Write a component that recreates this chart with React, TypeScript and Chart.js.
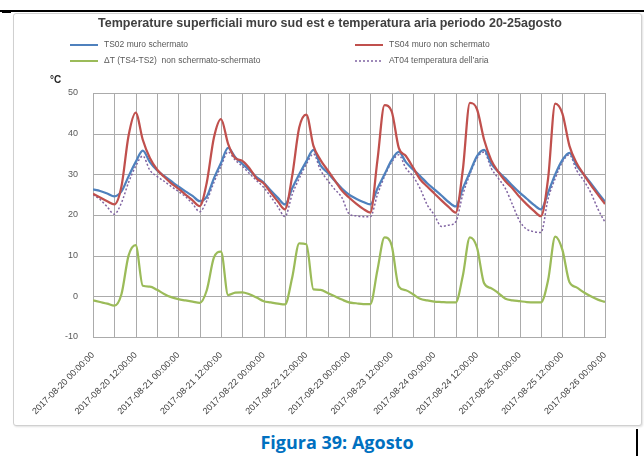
import React, { useEffect, useRef } from 'react';
import { Chart, registerables } from 'chart.js';

Chart.register(...registerables);

// Hours elapsed since 2017-08-20 00:00:00 (2-hour samples)
const hours = [
  0, 2, 4, 6, 8, 10, 12, 14, 16, 18, 20, 22,
  24, 26, 28, 30, 32, 34, 36, 38, 40, 42, 44, 46,
  48, 50, 52, 54, 56, 58, 60, 62, 64, 66, 68, 70,
  72, 74, 76, 78, 80, 82, 84, 86, 88, 90, 92, 94,
  96, 98, 100, 102, 104, 106, 108, 110, 112, 114, 116, 118,
  120, 122, 124, 126, 128, 130, 132, 134, 136, 138, 140, 142,
  144,
];

const tickLabels = [
  '2017-08-20 00:00:00', '2017-08-20 12:00:00',
  '2017-08-21 00:00:00', '2017-08-21 12:00:00',
  '2017-08-22 00:00:00', '2017-08-22 12:00:00',
  '2017-08-23 00:00:00', '2017-08-23 12:00:00',
  '2017-08-24 00:00:00', '2017-08-24 12:00:00',
  '2017-08-25 00:00:00', '2017-08-25 12:00:00',
  '2017-08-26 00:00:00',
];

const ts02 = [
  26.3, 25.9, 25.3, 24.6, 25.8, 29.5, 33.0, 35.8, 33.0, 31.0, 29.6, 28.3,
  27.0, 25.8, 24.7, 23.4, 24.5, 29.0, 32.8, 36.5, 34.2, 32.6, 31.0, 29.3,
  28.0, 26.0, 24.2, 22.6, 26.5, 30.0, 33.2, 36.0, 32.2, 30.4, 28.4, 26.5,
  25.0, 24.0, 23.2, 22.6, 26.5, 30.0, 33.5, 35.5, 33.0, 31.2, 29.6, 27.8,
  26.3, 24.8, 23.2, 22.1, 26.5, 30.5, 34.5, 36.0, 32.6, 30.6, 29.0, 27.2,
  25.5, 24.0, 22.5, 21.4, 25.5, 30.0, 33.5, 35.3, 32.2, 30.0, 27.8, 25.5,
  23.3,
];

const ts04 = [
  25.2, 24.3, 23.4, 22.6, 27.0, 39.5, 45.2, 38.5, 34.0, 31.2, 29.4, 27.8,
  26.5, 25.0, 23.6, 22.2, 28.0, 39.0, 43.6, 37.5, 34.0, 33.3, 31.5, 29.0,
  27.8, 25.5, 23.3, 21.4, 29.5, 41.5, 44.7, 37.0, 33.5, 31.0, 28.5, 26.0,
  24.3, 22.8, 21.5, 20.6, 33.5, 47.0, 45.5, 36.5, 34.5, 31.7, 28.8, 27.0,
  25.3, 23.6, 22.0, 20.6, 31.0, 47.6, 46.0, 38.5, 33.5, 30.6, 28.3, 26.5,
  24.4, 22.6, 21.0, 19.7, 29.0, 47.4, 45.0, 37.0, 32.8, 30.0, 27.4, 25.0,
  22.7,
];

const deltaT = [
  -1.0, -1.4, -1.8, -2.3, 0.5, 10.0, 12.6, 2.6, 2.4, 1.6, 0.6, -0.2,
  -0.7, -1.0, -1.3, -1.6, 1.5, 9.5, 11.0, 0.3, 0.9, 1.0, 0.5, -0.3,
  -1.2, -1.5, -1.8, -2.0, 4.5, 13.0, 12.8, 1.7, 1.6, 0.8, 0.0, -0.8,
  -1.5, -1.7, -1.9, -1.9, 6.5, 14.5, 12.5, 2.4, 1.5, 0.5, -0.6, -1.0,
  -1.3, -1.4, -1.5, -1.5, 5.0, 14.5, 12.0, 3.2, 2.0, 0.8, -0.6, -1.0,
  -1.2, -1.4, -1.5, -1.5, 4.0, 14.7, 11.5, 3.5, 2.2, 1.0, 0.0, -0.8,
  -1.4,
];

const at04 = [
  25.0, 23.8, 22.0, 20.2, 23.0, 28.0, 32.0, 34.5, 31.0, 29.5, 28.3, 27.0,
  25.8, 24.5, 22.8, 20.8, 23.5, 28.0, 32.0, 35.5, 33.5, 32.0, 30.2, 28.5,
  26.8, 24.5, 22.0, 19.6, 25.0, 29.0, 32.5, 35.0, 31.0, 28.5, 26.3, 24.3,
  20.3, 19.8, 19.6, 19.6, 25.0, 29.5, 33.0, 34.8, 31.5, 29.5, 26.5, 22.5,
  20.0, 17.2, 17.5, 18.3, 25.0, 30.0, 34.0, 35.5, 31.5, 29.0, 26.5, 22.5,
  18.5, 16.5, 15.9, 15.7, 24.0, 29.0, 33.0, 34.8, 31.0, 28.5, 25.5, 21.5,
  18.2,
];

const seriesNames = [
  'TS02 muro schermato',
  'TS04 muro non schermato',
  'ΔT (TS4-TS2)  non schermato-schermato',
  'AT04 temperatura dell\u2019aria',
];
const seriesColors = ['#4f81bd', '#c0504d', '#9bbb59', '#8064a2'];

const titleText = 'Temperature superficiali muro sud est e temperatura aria periodo 20-25agosto';

const toPoints = (vals: number[]) => vals.map((v, i) => ({ x: hours[i], y: v }));

const gridColor = '#ababab';

// Draws the plot grid through the chart's own scales (behind the lines)
const gridPlugin = {
  id: 'gridlines',
  beforeDatasetsDraw(chart: any) {
    const { ctx, chartArea, scales } = chart;
    const xs = scales.x;
    const ys = scales.y;
    ctx.save();
    ctx.strokeStyle = gridColor;
    ctx.lineWidth = 1;
    xs.ticks.forEach((t: any) => {
      const px = Math.round(xs.getPixelForValue(t.value)) + 0.5;
      ctx.beginPath();
      ctx.moveTo(px, chartArea.top);
      ctx.lineTo(px, chartArea.bottom);
      ctx.stroke();
    });
    ys.ticks.forEach((t: any) => {
      const py = Math.round(ys.getPixelForValue(t.value)) + 0.5;
      ctx.beginPath();
      ctx.moveTo(chartArea.left, py);
      ctx.lineTo(chartArea.right, py);
      ctx.stroke();
    });
    ctx.restore();
  },
};

const overlayPlugin = {
  id: 'overlay',
  afterDraw(chart: any) {
    const ctx = chart.ctx as CanvasRenderingContext2D;
    ctx.save();
    ctx.fillStyle = '#404040';
    ctx.font = 'bold 12.5px "Liberation Sans", Arial, sans-serif';
    ctx.textAlign = 'center';
    ctx.textBaseline = 'middle';
    ctx.fillText(titleText, 316, 10);

    const cols = [56, 341];
    const rows = [31, 47];
    const items = [
      { i: 0, c: 0, r: 0, dash: [] as number[] },
      { i: 1, c: 1, r: 0, dash: [] as number[] },
      { i: 2, c: 0, r: 1, dash: [] as number[] },
      { i: 3, c: 1, r: 1, dash: [2, 2] },
    ];
    ctx.font = '8.5px "Liberation Sans", Arial, sans-serif';
    ctx.textAlign = 'left';
    items.forEach((it) => {
      const x = cols[it.c];
      const y = rows[it.r];
      ctx.beginPath();
      ctx.setLineDash(it.dash);
      ctx.strokeStyle = seriesColors[it.i];
      ctx.lineWidth = it.i === 3 ? 1.5 : 2;
      ctx.moveTo(x, y);
      ctx.lineTo(x + 28, y);
      ctx.stroke();
      ctx.setLineDash([]);
      ctx.fillStyle = '#595959';
      ctx.fillText(seriesNames[it.i], x + 34, y);
    });

    ctx.fillStyle = '#262626';
    ctx.font = 'bold 10px "Liberation Sans", Arial, sans-serif';
    ctx.textAlign = 'left';
    ctx.fillText('°C', 36, 66);
    ctx.restore();
  },
};

export default function App() {
  const canvasRef = useRef<HTMLCanvasElement | null>(null);

  useEffect(() => {
    const canvas = canvasRef.current;
    if (!canvas) return;
    const common = {
      pointRadius: 0,
      tension: 0.25,
      cubicInterpolationMode: 'monotone',
    };
    const chart = new Chart(canvas, {
      type: 'line',
      data: {
        datasets: [
          { ...common, label: seriesNames[1], data: toPoints(ts04), borderColor: seriesColors[1], borderWidth: 2.25, order: 0 },
          { ...common, label: seriesNames[0], data: toPoints(ts02), borderColor: seriesColors[0], borderWidth: 2.25, order: 1 },
          { ...common, label: seriesNames[3], data: toPoints(at04), borderColor: seriesColors[3], borderWidth: 1.5, borderDash: [2, 2], order: 2 },
          { ...common, label: seriesNames[2], data: toPoints(deltaT), borderColor: seriesColors[2], borderWidth: 2.25, order: 3 },
        ],
      },
      options: {
        animation: false,
        responsive: false,
        devicePixelRatio: 1,
        layout: { padding: { top: 79, right: 36, left: 0, bottom: 0 } },
        plugins: {
          legend: { display: false },
          title: { display: false },
          tooltip: { enabled: false },
        },
        scales: {
          x: {
            type: 'linear',
            min: 0,
            max: 144,
            afterFit: (scale: any) => {
              scale.height = 88;
            },
            afterBuildTicks: (scale: any) => {
              const t: { value: number }[] = [];
              for (let v = 0; v <= 144; v += 6) t.push({ value: v });
              scale.ticks = t;
            },
            grid: { display: false },
            border: { display: true, color: '#a6a6a6' },
            ticks: {
              autoSkip: false,
              maxRotation: 45,
              minRotation: 45,
              padding: 5,
              color: '#404040',
              font: { size: 9, family: '"Liberation Sans", Arial, sans-serif' },
              callback: (value: any) => {
                const v = Number(value);
                return v % 12 === 0 ? tickLabels[v / 12] : '';
              },
            },
          },
          y: {
            min: -10,
            max: 50,
            afterFit: (scale: any) => {
              scale.width = 79;
            },
            grid: { display: false },
            border: { display: true, color: '#a6a6a6' },
            ticks: {
              stepSize: 10,
              padding: 7,
              color: '#595959',
              font: { size: 9, family: '"Liberation Sans", Arial, sans-serif' },
            },
          },
        },
      },
      plugins: [gridPlugin, overlayPlugin],
    } as any);
    return () => chart.destroy();
  }, []);

  return (
    <div style={{ position: 'absolute', left: 0, top: 0, width: 644, height: 460, background: '#ffffff', overflow: 'hidden' }}>
      <div style={{ position: 'absolute', left: 0, top: 10, width: 644, height: 1.5, background: '#000000' }} />
      <div style={{ position: 'absolute', left: 2, top: 11, width: 9, height: 2, background: '#000000' }} />
      <div
        style={{
          position: 'absolute',
          left: 13,
          top: 13,
          width: 627,
          height: 411,
          border: '1px solid #d0d0d0',
          borderRadius: 3,
          boxShadow: '1px 1px 2px rgba(0,0,0,0.12)',
          background: '#ffffff',
        }}
      >
        <canvas ref={canvasRef} width={627} height={411} style={{ display: 'block', width: 627, height: 411 }} />
      </div>
      <div
        style={{
          position: 'absolute',
          left: 0,
          width: 674,
          top: 431,
          textAlign: 'center',
          color: '#0070c0',
          fontWeight: 'bold',
          fontSize: 18,
          lineHeight: '22px',
          fontFamily: '"Open Sans", "Noto Sans", sans-serif',
        }}
      >
        Figura 39: Agosto
      </div>
      <div style={{ position: 'absolute', left: 636, top: 429, width: 2, height: 27, background: '#000000' }} />
    </div>
  );
}
